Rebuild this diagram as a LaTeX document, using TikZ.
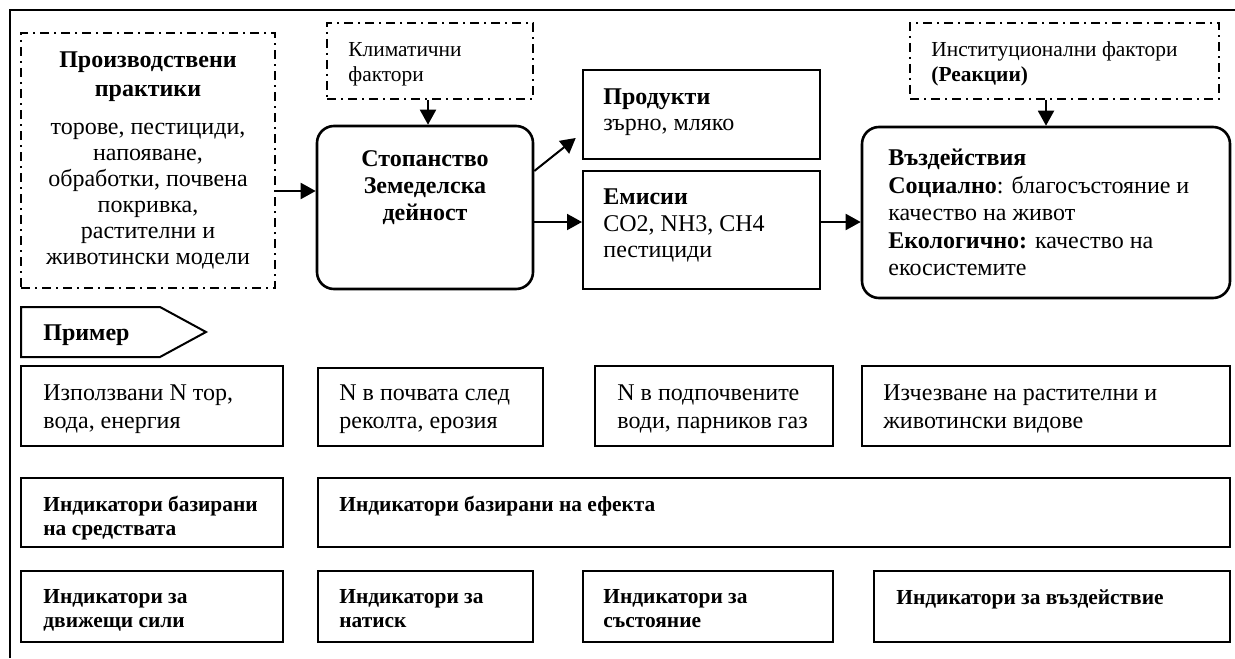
\documentclass[tikz,border=0pt]{standalone}
\usepackage{fontspec}
\setmainfont{Liberation Serif}
\usetikzlibrary{fit,arrows.meta}
\newcommand{\fl}{\rule{0pt}{9pt}}
\begin{document}
\begin{tikzpicture}[x=0.5pt,y=-0.5pt,
  font=\fontsize{12}{13.5}\selectfont,
  box/.style={draw, line width=1pt, inner sep=0pt},
  rbox/.style={draw, line width=1.3pt, rounded corners=8.5pt, inner sep=0pt},
  dbox/.style={draw, line width=0.9pt, dash pattern=on 4.5pt off 2.5pt on 1pt off 2.5pt, inner sep=0pt},
  txt/.style={inner sep=0pt, anchor=north west, align=left},
  ctxt/.style={inner sep=0pt, anchor=north, align=center},
  ind/.style={txt, font=\bfseries\fontsize{10.7}{12}\selectfont},
  arr/.style={line width=1pt, -{Triangle[length=7.5pt,width=8pt]}}
]
\useasboundingbox (0,0) rectangle (1235,658);
% outer frame
\draw[line width=1.2pt] (10,658) -- (10,10) -- (1235,10);

% top boxes
\node[dbox, fit={(21,33) (275,288)}] (prod) {};
\node[dbox, fit={(327,23) (533,99)}] (clim) {};
\node[rbox, fit={(317,126) (533,289)}] (stop) {};
\node[box, fit={(583,70) (820,159)}] (prods) {};
\node[box, fit={(583,171) (820,289)}] (emis) {};
\node[dbox, fit={(910,23) (1219,99)}] (inst) {};
\node[rbox, fit={(862,127) (1230,298)}] (imp) {};

% texts of top boxes
\node[ctxt, font=\fontsize{12}{13}\selectfont] (prodt) at (148,49.5)
  {\fl\textbf{Производствени}\\[1.5pt]\textbf{практики}\\[6pt]торове, пестициди,\\напояване,\\обработки, почвена\\покривка,\\растителни и\\животински модели};
\node[txt, font=\fontsize{10.7}{12.5}\selectfont] (climt) at (348,38) {\fl Климатични\\фактори};
\node[ctxt, font=\bfseries\fontsize{12}{13.5}\selectfont] (stopt) at (425,148.5) {\fl Стопанство\\Земеделска\\дейност};
\node[txt, font=\fontsize{12}{13}\selectfont] (prodst) at (603,86.5) {\fl\textbf{Продукти}\\зърно, мляко};
\node[txt, font=\fontsize{12}{13.25}\selectfont] (emist) at (603,186.5) {\fl\textbf{Емисии}\\CO2, NH3, CH4\\пестициди};
\node[txt, font=\fontsize{10.7}{12.5}\selectfont] (instt) at (931,38) {\fl Институционални фактори\\\textbf{(Реакции)}};
\node[txt, font=\fontsize{12}{13.75}\selectfont] (impt) at (888,147.5)
  {\fl\textbf{Въздействия}\\\textbf{Социално}: благосъстояние и\\качество на живот\\\textbf{Екологично:} качество на\\екосистемите};

% arrows
\coordinate (ya) at (0,191);
\draw[arr] (prod.east |- ya) -- (stop.west |- ya);
\coordinate (xb) at (428,0);
\draw[arr] (clim.south -| xb) -- (stop.north -| xb);
\coordinate (yc1) at (0,171);
\coordinate (yc2) at (0,133);
\draw[arr, shorten >=4pt] (stop.east |- yc1) -- (prods.west |- yc2);
\coordinate (yd) at (0,222);
\draw[arr] (stop.east |- yd) -- (emis.west |- yd);
\draw[arr] (emis.east |- yd) -- (imp.west |- yd);
\draw[arr] (inst.south -| imp.north) -- (imp.north);

% example pentagon
\draw[line width=1pt] (21,307) -- (160,307) -- (206,332) -- (160,357) -- (21,357) -- cycle;
\node[txt] (ex) at (43,322.5) {\fl\textbf{Пример}};

% example row
\node[box, fit={(21,366) (283,446)}] (a) {};
\node[box, fit={(318,368) (543,446)}] (b) {};
\node[box, fit={(595,366) (833,446)}] (c) {};
\node[box, fit={(862,366) (1230,446)}] (d) {};
\node[txt, font=\fontsize{12}{14}\selectfont] (at) at (43,382.5) {\fl Използвани N тор,\\вода, енергия};
\node[txt, font=\fontsize{12}{14}\selectfont] (bt) at (339,382.5) {\fl N в почвата след\\реколта, ерозия};
\node[txt, font=\fontsize{12}{14}\selectfont] (ct) at (617,382.5) {\fl N в подпочвените\\води, парников газ};
\node[txt, font=\fontsize{12}{14}\selectfont] (dt) at (883,382.5) {\fl Изчезване на растителни и\\животински видове};

% indicator rows
\node[box, fit={(21,478) (283,547)}] (e) {};
\node[box, fit={(318,478) (1230,547)}] (f) {};
\node[ind] (et) at (43,493.5) {\fl Индикатори базирани\\на средствата};
\node[ind] (ft) at (339,493.5) {\fl Индикатори базирани на ефекта};

\node[box, fit={(21,571) (283,642)}] (g) {};
\node[box, fit={(318,571) (533,642)}] (h) {};
\node[box, fit={(583,571) (833,642)}] (i) {};
\node[box, fit={(874,571) (1230,642)}] (j) {};
\node[ind] (gt) at (43,585) {\fl Индикатори за\\движещи сили};
\node[ind] (ht) at (339,585) {\fl Индикатори за\\натиск};
\node[ind] (it) at (603,585) {\fl Индикатори за\\състояние};
\node[ind] (jt) at (896,586) {\fl Индикатори за въздействие};
\end{tikzpicture}
\end{document}
